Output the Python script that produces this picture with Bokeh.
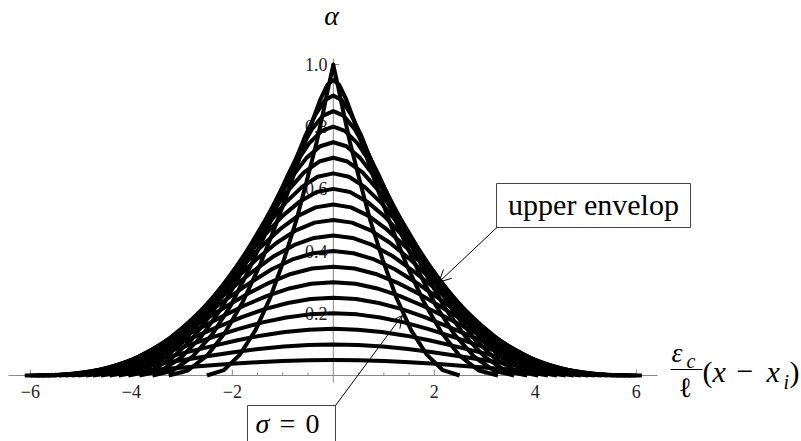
from bokeh.plotting import figure
from bokeh.models import Range1d, Arrow, OpenHead
from bokeh.embed import file_html
from bokeh.resources import INLINE
from bokeh.core.properties import value

# ---- data ----
# peak damage value of each profile (sigma decreasing -> peak increasing; 1.00 is sigma = 0)
peaks = [0.05, 0.10, 0.15, 0.20, 0.25, 0.30, 0.35, 0.40, 0.45, 0.50,
         0.55, 0.60, 0.65, 0.70, 0.75, 0.80, 0.85, 0.90, 0.95, 1.00]
# fraction of the peak at which the half-widths below are read
level_frac = [1.0, 0.983, 0.933, 0.854, 0.75, 0.629, 0.5, 0.371, 0.25, 0.146, 0.067, 0.017, 0.0]
# half-width |x| of each profile at those fractions (profiles are symmetric about x = 0)
half_widths = [
    [0, 0.50, 1.01, 1.51, 2.02, 2.53, 3.04, 3.55, 4.06, 4.57, 5.08, 5.59, 6.11],
    [0, 0.49, 0.98, 1.48, 1.97, 2.47, 2.97, 3.47, 3.97, 4.48, 4.98, 5.49, 6.00],
    [0, 0.48, 0.96, 1.44, 1.92, 2.40, 2.89, 3.39, 3.88, 4.38, 4.89, 5.39, 5.90],
    [0, 0.47, 0.93, 1.40, 1.87, 2.34, 2.82, 3.31, 3.79, 4.28, 4.78, 5.28, 5.78],
    [0, 0.45, 0.90, 1.36, 1.81, 2.27, 2.74, 3.22, 3.70, 4.18, 4.67, 5.16, 5.66],
    [0, 0.44, 0.87, 1.31, 1.76, 2.21, 2.67, 3.13, 3.61, 4.08, 4.57, 5.06, 5.55],
    [0, 0.42, 0.84, 1.26, 1.70, 2.14, 2.59, 3.04, 3.51, 3.98, 4.46, 4.95, 5.43],
    [0, 0.40, 0.81, 1.22, 1.63, 2.06, 2.50, 2.95, 3.41, 3.88, 4.35, 4.83, 5.31],
    [0, 0.38, 0.77, 1.17, 1.57, 1.99, 2.41, 2.85, 3.30, 3.76, 4.23, 4.71, 5.18],
    [0, 0.37, 0.74, 1.12, 1.51, 1.91, 2.32, 2.75, 3.20, 3.65, 4.11, 4.58, 5.05],
    [0, 0.35, 0.70, 1.06, 1.44, 1.83, 2.23, 2.65, 3.08, 3.53, 3.98, 4.44, 4.90],
    [0, 0.33, 0.66, 1.01, 1.37, 1.74, 2.13, 2.54, 2.96, 3.40, 3.85, 4.30, 4.76],
    [0, 0.31, 0.62, 0.95, 1.29, 1.65, 2.03, 2.42, 2.84, 3.27, 3.70, 4.15, 4.60],
    [0, 0.28, 0.58, 0.88, 1.21, 1.55, 1.92, 2.30, 2.70, 3.12, 3.55, 3.99, 4.43],
    [0, 0.26, 0.53, 0.81, 1.12, 1.45, 1.80, 2.17, 2.56, 2.97, 3.39, 3.82, 4.25],
    [0, 0.23, 0.48, 0.74, 1.02, 1.33, 1.67, 2.03, 2.41, 2.80, 3.21, 3.63, 4.06],
    [0, 0.20, 0.42, 0.65, 0.92, 1.21, 1.53, 1.87, 2.23, 2.62, 3.02, 3.42, 3.84],
    [0, 0.17, 0.35, 0.56, 0.79, 1.06, 1.36, 1.69, 2.03, 2.40, 2.79, 3.18, 3.58],
    [0, 0.12, 0.26, 0.43, 0.64, 0.88, 1.16, 1.46, 1.79, 2.14, 2.50, 2.88, 3.26],
    [0, 0.02, 0.09, 0.19, 0.33, 0.52, 0.73, 0.98, 1.25, 1.54, 1.85, 2.17, 2.50],
]
# axis ticks
x_major = [-6, -4, -2, 2, 4, 6]
x_labels = ["\u22126", "\u22124", "\u22122", "2", "4", "6"]
x_minor = [-5.5, -5, -4.5, -3.5, -3, -2.5, -1.5, -1, -0.5, 0.5, 1, 1.5, 2.5, 3, 3.5, 4.5, 5, 5.5]
y_major = [0.2, 0.4, 0.6, 0.8, 1.0]
y_labels = ["0.2", "0.4", "0.6", "0.8", "1.0"]
y_minor = [0.05, 0.10, 0.15, 0.25, 0.30, 0.35, 0.45, 0.50, 0.55, 0.65, 0.70, 0.75, 0.85, 0.90, 0.95]

# ---- layout (frame origin at px (332.8, 375), 50.5 px per x unit, 311 px per y unit)
W, H = 801, 441
X0, Y0, SX, SY = 332.8, 375.0, 50.5, 311.0


def X(px):
    return (px - X0) / SX


def Y(py):
    return (Y0 - py) / SY


SERIF = value("Liberation Serif")
AX = "#888888"

p = figure(width=W, height=H, x_range=Range1d(X(0), X(W)), y_range=Range1d(Y(H), Y(0)),
           output_backend="svg", toolbar_location=None, min_border=0,
           x_axis_type=None, y_axis_type=None)
p.outline_line_color = None
p.background_fill_color = "white"


def label(px, py, txt, size, style="normal", align="left", color="black"):
    p.text(x=[X(px)], y=[Y(py)], text=[txt], text_font=SERIF, text_font_style=style,
           text_font_size="%dpx" % size, text_align=align, text_baseline="middle",
           text_color=color)


# axes crossing at the origin
p.segment(x0=[X(8), 0], y0=[0, Y(382)], x1=[X(657), 0], y1=[0, Y(58)], line_color=AX, line_width=1)
p.segment(x0=x_major, y0=[0] * len(x_major), x1=x_major, y1=[6 / SY] * len(x_major), line_color=AX)
p.segment(x0=x_minor, y0=[0] * len(x_minor), x1=x_minor, y1=[3 / SY] * len(x_minor), line_color=AX)
p.segment(x0=[0] * len(y_major), y0=y_major, x1=[6 / SX] * len(y_major), y1=y_major, line_color=AX)
p.segment(x0=[0] * len(y_minor), y0=y_minor, x1=[3 / SX] * len(y_minor), y1=y_minor, line_color=AX)
p.text(x=x_major, y=[Y(391)] * len(x_major), text=x_labels, text_font=SERIF, text_font_size="18px",
       text_align="center", text_baseline="middle", text_color="#222222")
p.text(x=[X(327)] * len(y_major), y=y_major, text=y_labels, text_font=SERIF,
       text_font_size="18px", text_align="right", text_baseline="middle", text_color="#222222")

# damage profiles
xs, ys = [], []
for A, hw in zip(peaks, half_widths):
    a = [A * f for f in level_frac]
    xs.append([-v for v in hw[::-1]] + hw[1:])
    ys.append(a[::-1] + a[1:])
p.multi_line(xs=xs, ys=ys, line_color="black", line_width=4, line_join="round")

# axis titles
label(331, 15, "\u03b1", 28, "italic", "center")
label(671, 352, "\u03b5", 28, "italic")
label(686, 360, "c", 20, "italic")
p.segment(x0=[X(670)], y0=[Y(369)], x1=[X(702)], y1=[Y(369)], line_color="black", line_width=1)
label(685, 387, "\u2113", 28, "normal", "center")
label(702, 371, "(", 30)
label(712, 371, "x", 30, "italic")
label(736, 371, "\u2212", 30)
label(766, 371, "x", 30, "italic")
label(783, 381, "i", 20, "italic")
label(789, 371, ")", 30)

# annotation: upper envelope
p.quad(left=[X(496)], right=[X(690)], top=[Y(183)], bottom=[Y(227)], fill_color="white",
       line_color="#444444", line_width=1)
label(593, 204, "upper envelop", 30, "normal", "center")
p.add_layout(Arrow(end=OpenHead(size=12, line_width=1), x_start=X(496.7), y_start=Y(226.7),
                   x_end=X(438.3), y_end=Y(281.7), line_width=1))

# annotation: sigma = 0
p.quad(left=[X(247)], right=[X(335)], top=[Y(405)], bottom=[Y(470)], fill_color="white",
       line_color="#444444", line_width=1)
label(255, 423, "\u03c3", 28, "italic")
label(279, 423, "=", 28)
label(305, 423, "0", 28)
p.add_layout(Arrow(end=OpenHead(size=12, line_width=1), x_start=X(335), y_start=Y(405),
                   x_end=X(401.7), y_end=Y(315), line_width=1))

open("out.html", "w").write(file_html(p, INLINE))
